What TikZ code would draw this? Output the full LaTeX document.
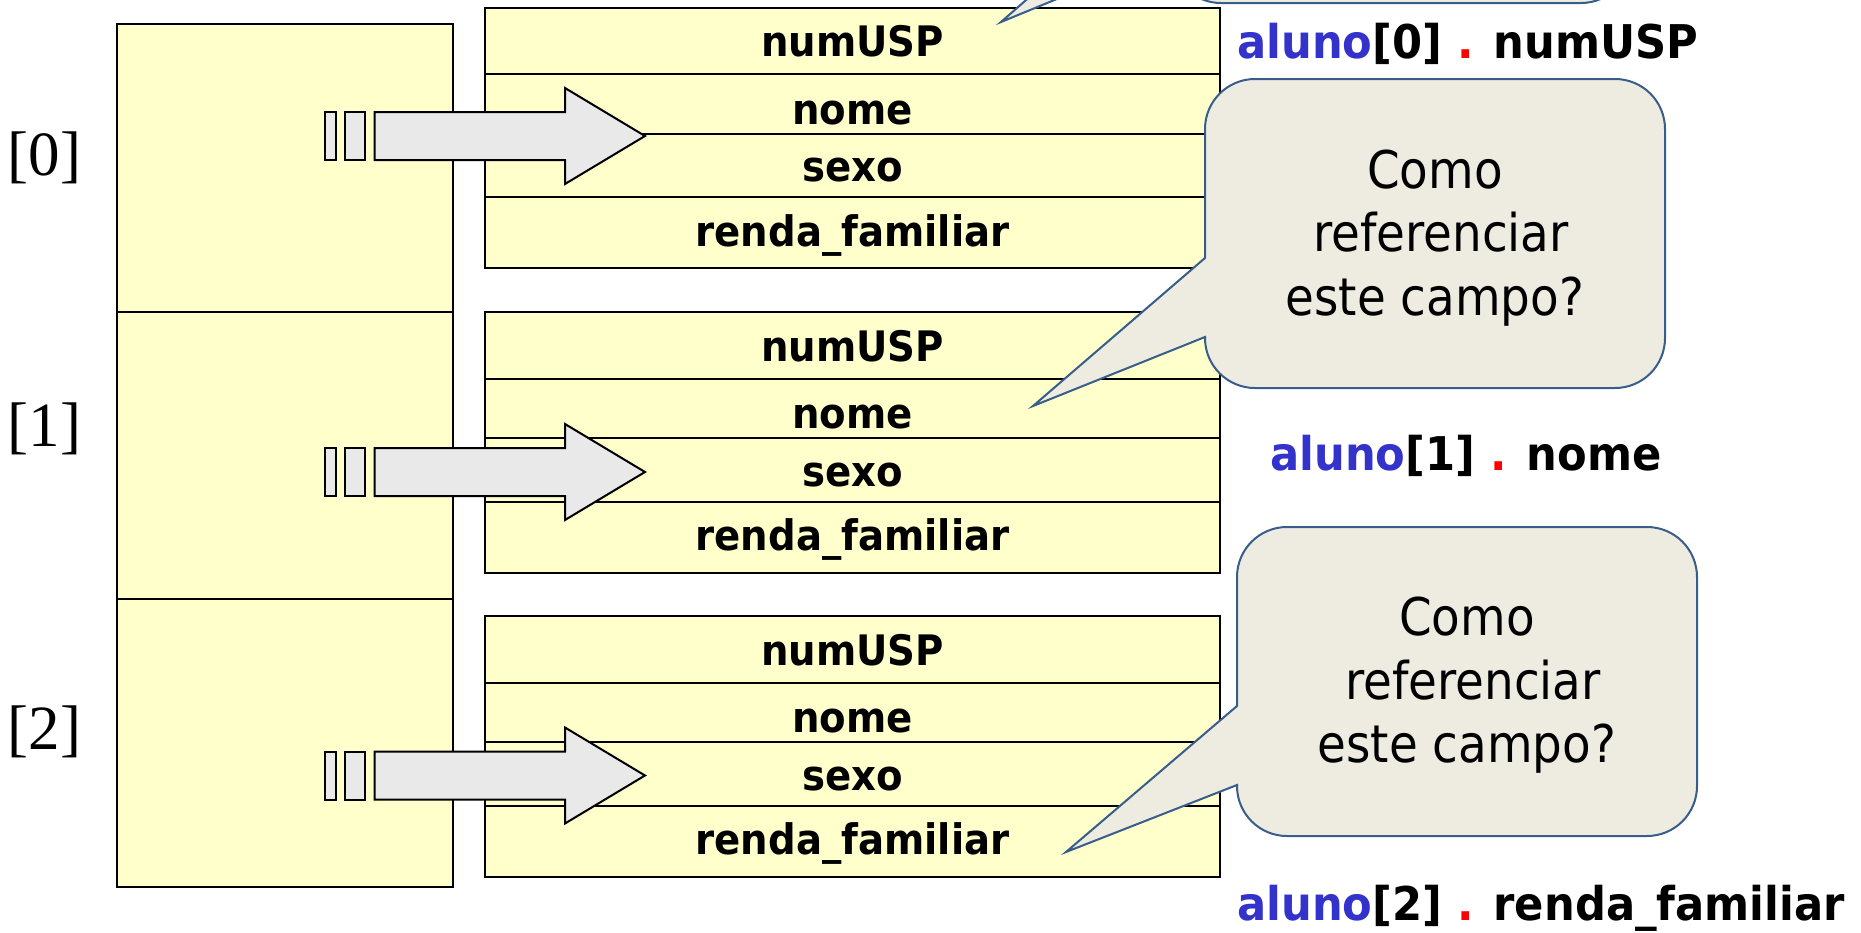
\documentclass[tikz,border=0pt]{standalone}
\usepackage{fontspec}
\setmainfont{Liberation Serif}
\newfontfamily\fldfont{DejaVu Sans}[FakeStretch=0.92]
\newfontfamily\labfont{DejaVu Sans}[FakeStretch=0.93]
\newfontfamily\bubfont{DejaVu Sans}[FakeStretch=0.9]
\definecolor{recfill}{HTML}{FFFFCC}
\definecolor{arrfill}{HTML}{E9E9E9}
\definecolor{bubfill}{HTML}{EEECE1}
\definecolor{bubline}{HTML}{385D8A}
\definecolor{alublue}{HTML}{3333CC}
\definecolor{dotred}{HTML}{FF0000}
\begin{document}
\begin{tikzpicture}[x=1pt,y=-1pt,
  cellbox/.style={draw=black,line width=2pt,fill=recfill},
  rowbox/.style={draw=black,line width=2pt,fill=recfill},
  fld/.style={font=\fldfont\bfseries\fontsize{42}{44}\selectfont, inner sep=0pt, anchor=base},
  idx/.style={font=\fontsize{63}{70}\selectfont, inner sep=0pt},
  blockarrow/.style={draw=black,line width=2pt,fill=arrfill,line join=miter},
  bubble/.style={draw=bubline,line width=2pt,fill=bubfill,line join=miter},
  bubtext/.style={font=\bubfont\fontsize{52}{60}\selectfont, inner sep=0pt, anchor=base},
  reflabel/.style={font=\labfont\bfseries\fontsize{46.5}{50}\selectfont, inner sep=0pt, anchor=base west},
]
\useasboundingbox (0,0) rectangle (1861,932);
\clip (0,0) rectangle (1861,932);

% left array cells
\foreach \t/\b in {24/312, 312/599, 599/887} {
  \draw[cellbox] (116.5,\t) rectangle (453,\b);
}
\node[idx] (i0) at (44.5,157.5) {[0]};
\node[idx] (i1) at (44.5,429) {[1]};
\node[idx] (i2) at (44.5,732) {[2]};

% records
\foreach \T [count=\i from 0] in {7.5,312,616} {
  \draw[rowbox] (485,\T) rectangle (1220,\T+66.5);
  \draw[rowbox] (485,\T+66.5) rectangle (1220,\T+126);
  \draw[rowbox] (485,\T+126) rectangle (1220,\T+189.5);
  \draw[rowbox] (485,\T+189.5) rectangle (1220,\T+260.5);
  \node[fld] (num\i) at (852.5,\T+49.2) {numUSP};
  \node[fld] (nome\i) at (852.5,\T+116.5) {nome};
  \node[fld] (sexo\i) at (852.5,\T+174.2) {sexo};
  \node[fld] (renda\i) at (852.5,\T+238.5) {renda\_familiar};
}

% block arrows
\foreach \cy [count=\i from 0] in {136,472,775.5} {
  \coordinate (tip\i) at (645,\cy);
  \draw[blockarrow] (tip\i) -- (565,\cy-48) -- (565,\cy-24) -- (374.5,\cy-24)
     -- (374.5,\cy+24) -- (565,\cy+24) -- (565,\cy+48) -- cycle;
  \draw[blockarrow] (324.5,\cy-24) rectangle (335.5,\cy+24);
  \draw[blockarrow] (344.7,\cy-24) rectangle (365,\cy+24);
}

% callout bubbles
\foreach \L/\T/\tx/\ty in {1171/-306/1001/22, 1205/79/1033/406, 1237/527/1066/852} {
  \draw[bubble] (\L,\T+258) -- (\tx,\ty) -- (\L,\T+179) -- (\L,\T+50)
    arc[start angle=180,end angle=270,radius=50] -- (\L+410,\T)
    arc[start angle=270,end angle=360,radius=50] -- (\L+460,\T+259)
    arc[start angle=0,end angle=90,radius=50] -- (\L+50,\T+309)
    arc[start angle=90,end angle=180,radius=50] -- cycle;
}
\node[bubtext] (b1a) at (1435,188.3) {Como};
\node[bubtext] (b1b) at (1441,251.7) {referenciar};
\node[bubtext] (b1c) at (1435,315) {este campo?};
\node[bubtext] (b2a) at (1467,635) {Como};
\node[bubtext] (b2b) at (1473,699) {referenciar};
\node[bubtext] (b2c) at (1467,762) {este campo?};

% reference labels
\node[reflabel] (lab0) at (1237,58) {\textcolor{alublue}{aluno}[0] \textcolor{dotred}{.} numUSP};
\node[reflabel] (lab1) at (1270,470.7) {\textcolor{alublue}{aluno}[1] \textcolor{dotred}{.} nome};
\node[reflabel] (lab2) at (1237,920.7) {\textcolor{alublue}{aluno}[2] \textcolor{dotred}{.} renda\_familiar};
\end{tikzpicture}
\end{document}
